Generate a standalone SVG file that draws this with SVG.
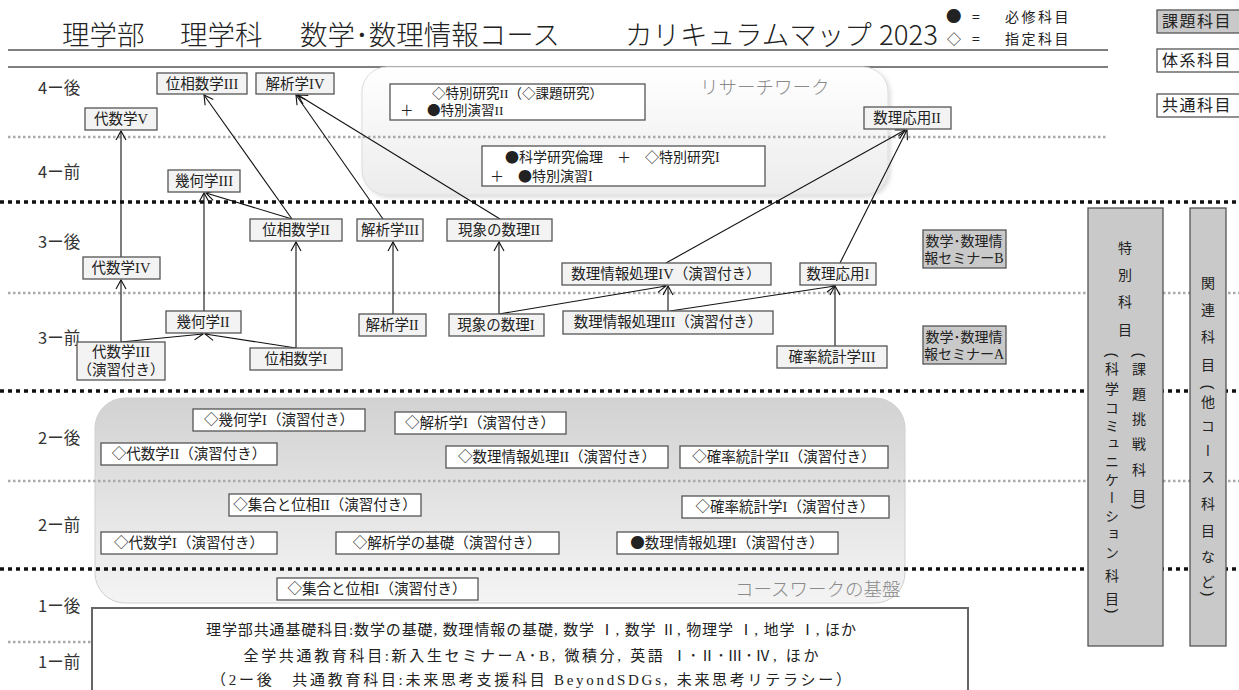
<svg xmlns="http://www.w3.org/2000/svg" width="1239" height="690" viewBox="0 0 1239 690">
<defs>
<style>
text{font-family:"Liberation Serif","Noto Sans CJK JP",serif;fill:#222}
.s{font-family:"Noto Sans CJK JP","Liberation Sans",sans-serif}
.node rect{fill:#f3f3f3;stroke:#555;stroke-width:1.3}
.node2 rect{fill:#fff;stroke:#555;stroke-width:1.3}
.gray rect{fill:#c9c9c9;stroke:#555;stroke-width:1.3}
.nt{font-size:14.5px;text-anchor:middle}
.edge{stroke:#111;stroke-width:1.1;fill:none;marker-end:url(#ah)}
.dash{stroke:#111;stroke-width:3.5;stroke-dasharray:4 4;fill:none}
.dot{stroke:#aaa;stroke-width:2.5;stroke-dasharray:2.5 2.5;fill:none}
.row{font-size:16.5px;fill:#333}
.v{writing-mode:vertical-rl;font-size:14px;text-anchor:middle;font-family:"Noto Sans CJK JP",sans-serif}
.pr{font-family:"Liberation Sans",sans-serif;font-size:15px;text-anchor:middle;dominant-baseline:central}
.lbl{font-size:18.5px;fill:#8a8a8a;font-weight:300}
.b{font-family:"Noto Sans CJK JP",sans-serif}
.bt{font-size:15px;text-anchor:middle}
.lg{font-family:"Noto Sans CJK JP",sans-serif;font-size:14px}
</style>
<marker id="ah" markerWidth="12" markerHeight="12" refX="10" refY="6" orient="auto" markerUnits="userSpaceOnUse"><path d="M1,1 L10,6 L1,11" fill="none" stroke="#111" stroke-width="1.1"/></marker>
<linearGradient id="gr" x1="0" y1="0" x2="0" y2="1"><stop offset="0" stop-color="#ffffff"/><stop offset="1" stop-color="#ececec"/></linearGradient>
<linearGradient id="gc" x1="0" y1="0" x2="0" y2="1"><stop offset="0" stop-color="#d2d2d2"/><stop offset="1" stop-color="#f4f4f4"/></linearGradient>
<filter id="sh" x="-5%" y="-5%" width="110%" height="115%"><feDropShadow dx="2" dy="2" stdDeviation="2" flood-color="#000" flood-opacity="0.15"/></filter>
</defs>
<rect width="1239" height="690" fill="#fff"/>

<g id="title">
<text class="s" y="45" font-size="27.5" font-weight="300" fill="#1a1a1a"><tspan x="62">理学部</tspan><tspan x="180">理学科</tspan><tspan x="300">数学･数理情報コース</tspan><tspan x="625">カリキュラムマップ</tspan><tspan x="879">2023</tspan></text>
<text class="lg" x="946" y="22"><tspan font-size="15.5">●</tspan><tspan x="972">=</tspan><tspan x="1005" letter-spacing="2.5">必修科目</tspan></text>
<text class="lg" x="947" y="44">◇<tspan x="972">=</tspan><tspan x="1005" letter-spacing="2.5">指定科目</tspan></text>
<line x1="8" y1="50" x2="1108" y2="50" stroke="#555" stroke-width="1.5"/>
<line x1="8" y1="67" x2="1108" y2="67" stroke="#555" stroke-width="1.5"/>
</g>

<g id="legend-boxes">
<g id="kadai" class="gray"><rect x="1157" y="10" width="90" height="23"/><text class="s" x="1162" y="27" font-size="16" letter-spacing="1.5">課題科目</text></g>
<g id="taikei" class="node2"><rect x="1157" y="49" width="90" height="23"/><text class="s" x="1162" y="66" font-size="16" letter-spacing="1.5">体系科目</text></g>
<g id="kyotsu" class="node2"><rect x="1157" y="94" width="90" height="23"/><text class="s" x="1162" y="111" font-size="16" letter-spacing="1.5">共通科目</text></g>
</g>

<g id="rows">
<text class="row s" x="38" y="94">4ー後</text>
<text class="row s" x="38" y="178">4ー前</text>
<text class="row s" x="38" y="248">3ー後</text>
<text class="row s" x="38" y="344">3ー前</text>
<text class="row s" x="38" y="444">2ー後</text>
<text class="row s" x="38" y="531">2ー前</text>
<text class="row s" x="38" y="612">1ー後</text>
<text class="row s" x="38" y="668">1ー前</text>
</g>

<g id="research-area">
<rect x="362" y="67" width="526" height="128" rx="25" fill="url(#gr)" stroke="#dcdcdc" filter="url(#sh)"/>
<text class="s lbl" x="700" y="94">リサーチワーク</text>
</g>
<g id="coursework-area">
<rect x="95" y="398" width="810" height="205" rx="30" fill="url(#gc)" stroke="#d0d0d0"/>
<text class="s lbl" x="735" y="596">コースワークの基盤</text>
</g>

<g id="grid">
<line class="dot" x1="8" y1="137" x2="1108" y2="137"/>
<line class="dash" x1="0" y1="202" x2="1239" y2="202"/>
<line class="dot" x1="8" y1="293" x2="1239" y2="293"/>
<line class="dash" x1="0" y1="391" x2="1239" y2="391"/>
<line class="dot" x1="8" y1="481" x2="1239" y2="481"/>
<line class="dash" x1="0" y1="569" x2="1239" y2="569"/>
<line class="dot" x1="8" y1="642" x2="92" y2="642"/>
</g>

<g id="connectors">
<line class="edge" x1="121" y1="257" x2="121" y2="131"/>
<line class="edge" x1="121" y1="342" x2="121" y2="280"/>
<line class="edge" x1="121" y1="342" x2="203" y2="334"/>
<line class="edge" x1="296" y1="348" x2="205" y2="334"/>
<line class="edge" x1="296" y1="348" x2="296" y2="242"/>
<line class="edge" x1="204" y1="311" x2="204" y2="193"/>
<line class="edge" x1="292" y1="219" x2="206" y2="193"/>
<line class="edge" x1="292" y1="219" x2="204" y2="95"/>
<line class="edge" x1="383" y1="219" x2="296" y2="95"/>
<line class="edge" x1="500" y1="219" x2="298" y2="95"/>
<line class="edge" x1="393" y1="314" x2="393" y2="242"/>
<line class="edge" x1="499" y1="314" x2="499" y2="242"/>
<line class="edge" x1="499" y1="314" x2="666" y2="286"/>
<line class="edge" x1="668" y1="311" x2="668" y2="286"/>
<line class="edge" x1="670" y1="311" x2="835" y2="286"/>
<line class="edge" x1="835" y1="346" x2="835" y2="286"/>
<line class="edge" x1="666" y1="263" x2="905" y2="130"/>
<line class="edge" x1="840" y1="263" x2="907" y2="130"/>
</g>

<g id="n-research2" class="node2"><rect x="390" y="84" width="255" height="36"/><text x="432" y="98" font-size="13.5">◇特別研究II（◇課題研究）</text><text x="400" y="115" font-size="13.5">＋　<tspan class="b">●</tspan>特別演習II</text></g>
<g id="n-research1" class="node2"><rect x="482" y="146" width="283" height="40"/><text x="505" y="162" font-size="14"><tspan class="b">●</tspan>科学研究倫理　＋　◇特別研究I</text><text x="490" y="181" font-size="14">＋　<tspan class="b">●</tspan>特別演習I</text></g>

<g id="n-isou3" class="node"><rect x="157" y="73" width="90" height="21"/><text class="nt" x="202" y="89">位相数学III</text></g>
<g id="n-kaiseki4" class="node"><rect x="256" y="73" width="78" height="21"/><text class="nt" x="295" y="89">解析学IV</text></g>
<g id="n-daisu5" class="node"><rect x="85" y="108" width="72" height="22"/><text class="nt" x="121" y="124">代数学V</text></g>
<g id="n-ouyou2" class="node"><rect x="864" y="107" width="87" height="22"/><text class="nt" x="907" y="123">数理応用II</text></g>
<g id="n-kika3" class="node"><rect x="168" y="170" width="72" height="22"/><text class="nt" x="204" y="186">幾何学III</text></g>

<g id="n-isou2" class="node"><rect x="250" y="219" width="92" height="22"/><text class="nt" x="296" y="235">位相数学II</text></g>
<g id="n-kaiseki3" class="node"><rect x="357" y="219" width="66" height="22"/><text class="nt" x="390" y="235">解析学III</text></g>
<g id="n-gensho2" class="node"><rect x="447" y="219" width="105" height="22"/><text class="nt" x="499" y="235">現象の数理II</text></g>
<g id="n-daisu4" class="node"><rect x="83" y="257" width="77" height="22"/><text class="nt" x="121" y="273">代数学IV</text></g>
<g id="n-joho4" class="node"><rect x="562" y="263" width="209" height="22"/><text class="nt" x="666" y="279">数理情報処理IV（演習付き）</text></g>
<g id="n-ouyou1" class="node"><rect x="800" y="263" width="76" height="22"/><text class="nt" x="838" y="279">数理応用I</text></g>
<g id="n-semiB" class="gray"><rect x="923" y="230" width="83" height="38"/><text x="964" y="246" font-size="14" text-anchor="middle">数学･数理情</text><text x="964" y="263" font-size="14" text-anchor="middle">報セミナーB</text></g>

<g id="n-kika2" class="node"><rect x="166" y="311" width="75" height="22"/><text class="nt" x="203" y="327">幾何学II</text></g>
<g id="n-kaiseki2" class="node"><rect x="359" y="314" width="67" height="22"/><text class="nt" x="392" y="330">解析学II</text></g>
<g id="n-gensho1" class="node"><rect x="449" y="314" width="95" height="22"/><text class="nt" x="496" y="330">現象の数理I</text></g>
<g id="n-joho3" class="node"><rect x="563" y="311" width="210" height="23"/><text class="nt" x="668" y="327">数理情報処理III（演習付き）</text></g>
<g id="n-daisu3" class="node"><rect x="77" y="342" width="88" height="38"/><text class="nt" x="121" y="357">代数学III</text><text class="nt" x="121" y="375">（演習付き）</text></g>
<g id="n-isou1" class="node"><rect x="250" y="348" width="92" height="22"/><text class="nt" x="296" y="364">位相数学I</text></g>
<g id="n-kakuritsu3" class="node"><rect x="777" y="346" width="110" height="22"/><text class="nt" x="832" y="362">確率統計学III</text></g>
<g id="n-semiA" class="gray"><rect x="923" y="326" width="83" height="38"/><text x="964" y="342" font-size="14" text-anchor="middle">数学･数理情</text><text x="964" y="359" font-size="14" text-anchor="middle">報セミナーA</text></g>

<g id="n-kika1" class="node2"><rect x="193" y="409" width="172" height="22"/><text class="nt" x="279" y="425">◇幾何学I（演習付き）</text></g>
<g id="n-kaiseki1" class="node2"><rect x="395" y="412" width="171" height="22"/><text class="nt" x="480" y="428">◇解析学I（演習付き）</text></g>
<g id="n-daisu2" class="node2"><rect x="101" y="443" width="176" height="22"/><text class="nt" x="189" y="459">◇代数学II（演習付き）</text></g>
<g id="n-joho2" class="node2"><rect x="446" y="446" width="222" height="22"/><text class="nt" x="557" y="462">◇数理情報処理II（演習付き）</text></g>
<g id="n-kakuritsu2" class="node2"><rect x="680" y="446" width="208" height="22"/><text class="nt" x="784" y="462">◇確率統計学II（演習付き）</text></g>
<g id="n-shugo2" class="node2"><rect x="229" y="494" width="192" height="22"/><text class="nt" x="325" y="510">◇集合と位相II（演習付き）</text></g>
<g id="n-kakuritsu1" class="node2"><rect x="682" y="496" width="207" height="22"/><text class="nt" x="785" y="512">◇確率統計学I（演習付き）</text></g>
<g id="n-daisu1" class="node2"><rect x="101" y="532" width="176" height="22"/><text class="nt" x="189" y="548">◇代数学I（演習付き）</text></g>
<g id="n-kiso" class="node2"><rect x="336" y="532" width="223" height="22"/><text class="nt" x="447" y="548">◇解析学の基礎（演習付き）</text></g>
<g id="n-joho1" class="node2"><rect x="617" y="532" width="221" height="22"/><text class="nt" x="727" y="548"><tspan class="b">●</tspan>数理情報処理I（演習付き）</text></g>
<g id="n-shugo1" class="node2"><rect x="277" y="578" width="201" height="22"/><text class="nt" x="377" y="594">◇集合と位相I（演習付き）</text></g>

<g id="n-common">
<rect x="92" y="608" width="876" height="90" fill="#fff" stroke="#666" stroke-width="2"/>
<text class="bt" x="531" y="635" textLength="650" lengthAdjust="spacing">理学部共通基礎科目:数学の基礎, 数理情報の基礎, 数学 Ⅰ, 数学 Ⅱ, 物理学 Ⅰ, 地学 Ⅰ, ほか</text>
<text class="bt" x="531" y="661" textLength="575" lengthAdjust="spacing">全学共通教育科目:新入生セミナーA･B, 微積分, 英語 Ⅰ･Ⅱ･Ⅲ･Ⅳ, ほか</text>
<text class="bt" x="531" y="685" textLength="640" lengthAdjust="spacing">（2ー後　共通教育科目:未来思考支援科目 BeyondSDGs, 未来思考リテラシー）</text>
</g>

<g id="n-tokubetsu">
<rect x="1088" y="208" width="75" height="438" fill="#c9c9c9" stroke="#555" stroke-width="1.3"/>
<text class="v"><tspan x="1125" y="248">特</tspan><tspan x="1125" y="275">別</tspan><tspan x="1125" y="302">科</tspan><tspan x="1125" y="330">目</tspan></text>
<text class="pr" transform="translate(1112,355) rotate(90)">(</text>
<text class="v"><tspan x="1112" y="369">科</tspan><tspan x="1112" y="389">学</tspan><tspan x="1112" y="408">コ</tspan><tspan x="1112" y="426">ミ</tspan><tspan x="1112" y="444">ュ</tspan><tspan x="1112" y="462">ニ</tspan><tspan x="1112" y="480">ケ</tspan><tspan x="1112" y="498">ー</tspan><tspan x="1112" y="516">シ</tspan><tspan x="1112" y="534">ョ</tspan><tspan x="1112" y="553">ン</tspan><tspan x="1112" y="576">科</tspan><tspan x="1112" y="599">目</tspan></text>
<text class="pr" transform="translate(1112,611) rotate(90)">)</text>
<text class="pr" transform="translate(1139,355) rotate(90)">(</text>
<text class="v"><tspan x="1139" y="369">課</tspan><tspan x="1139" y="394">題</tspan><tspan x="1139" y="419">挑</tspan><tspan x="1139" y="444">戦</tspan><tspan x="1139" y="470">科</tspan><tspan x="1139" y="496">目</tspan></text>
<text class="pr" transform="translate(1139,507) rotate(90)">)</text>
</g>
<g id="n-kanren">
<rect x="1190" y="208" width="36" height="438" fill="#c9c9c9" stroke="#555" stroke-width="1.3"/>
<text class="v"><tspan x="1208" y="283">関</tspan><tspan x="1208" y="310">連</tspan><tspan x="1208" y="337">科</tspan><tspan x="1208" y="365">目</tspan></text>
<text class="pr" transform="translate(1208,387) rotate(90)">(</text>
<text class="v"><tspan x="1208" y="402">他</tspan><tspan x="1208" y="426">コ</tspan><tspan x="1208" y="451">ー</tspan><tspan x="1208" y="477">ス</tspan><tspan x="1208" y="504">科</tspan><tspan x="1208" y="531">目</tspan><tspan x="1208" y="557">な</tspan><tspan x="1208" y="582">ど</tspan></text>
<text class="pr" transform="translate(1208,594) rotate(90)">)</text>
</g>
</svg>
